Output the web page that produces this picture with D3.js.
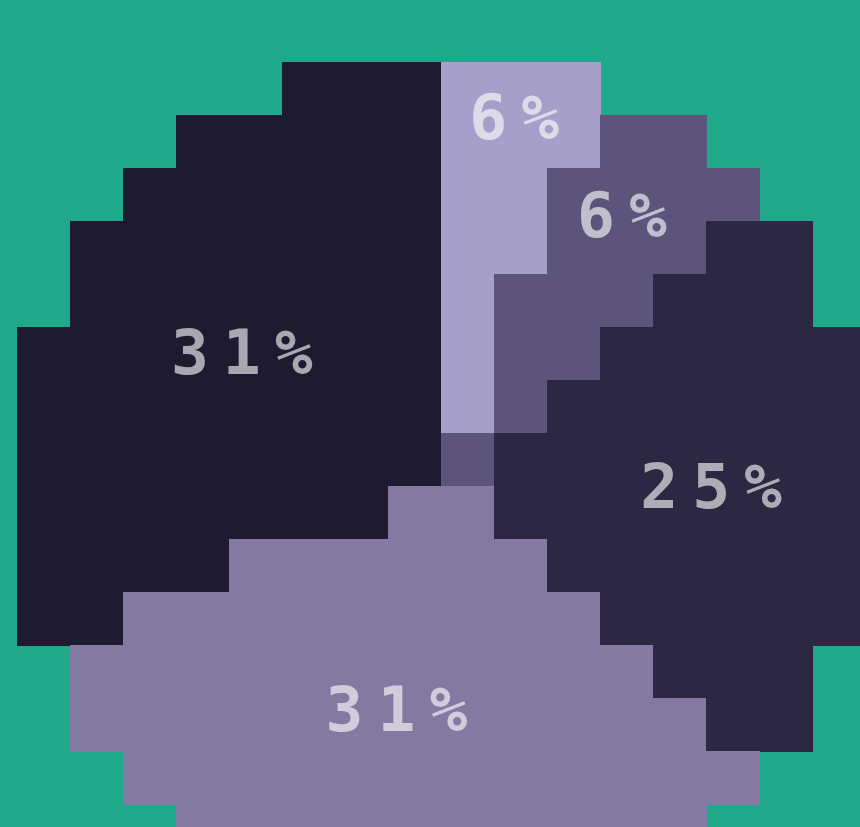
<!doctype html>
<html>
<head>
<meta charset="utf-8">
<style>
  html, body { margin: 0; padding: 0; background: #1fa88a; }
  svg { display: block; }
</style>
</head>
<body>
<script src="https://cdn.jsdelivr.net/npm/d3@7"></script>
<script>

  // data (parts of 16)
  var values = [1, 1, 4, 5, 5];
  var labels = ["6%", "6%", "25%", "31%", "31%"];
  var colors = ["#a59fc9", "#5d547b", "#2c2843", "#8479a1", "#1e1b31"];

  // layout
  var width = 860, height = 827;
  var cell = 53;              // size of one big pixel
  var cols = 18, rows = 18;   // pixel grid, pie centred at (9,9)
  var R = 8;                  // radius in grid pixels
  var labelR = [0.886, 0.768, 0.637, 0.538, 0.565]; // label distance as share of radius

  var svg = d3.select("body").append("svg")
      .attr("width", width).attr("height", height);

  svg.append("rect").attr("width", width).attr("height", height).attr("fill", "#1fa88a");

  var xScale = d3.scaleLinear().domain([0, cols]).range([-36, -36 + cols * cell]);
  var yScale = d3.scaleLinear().domain([0, rows]).range([9, 9 + rows * cell]);

  var pie = d3.pie().sort(null).value(function(d){ return d; });
  var arcs = pie(values);

  // sample every grid pixel and give it the colour of the slice it falls in
  var cx = 9.002, cy = 8.999;
  var cells = [];
  for (var r = 0; r < rows; r++) {
    for (var c = 0; c < cols; c++) {
      var dx = c + 0.5 - cx, dy = r + 0.5 - cy;
      if (Math.sqrt(dx*dx + dy*dy) > R) continue;
      var a = Math.atan2(dx, -dy);
      if (a < 0) a += 2 * Math.PI;
      var k = arcs.findIndex(function(s){ return a >= s.startAngle && a < s.endAngle; });
      if (k < 0) k = arcs.length - 1;
      cells.push({ c: c, r: r, k: k });
    }
  }

  svg.append("g")
    .attr("shape-rendering", "crispEdges")
    .selectAll("rect")
    .data(cells).enter()
    .append("rect")
    .attr("x", function(d){ return xScale(d.c); })
    .attr("y", function(d){ return yScale(d.r); })
    .attr("width", cell + 0.5)
    .attr("height", cell + 0.5)
    .attr("fill", function(d){ return colors[d.k]; });

  // labels
  var ox = xScale(9), oy = yScale(9);
  var g = svg.append("g").attr("transform", "translate(" + ox + "," + oy + ")");
  g.selectAll("text")
    .data(arcs).enter()
    .append("text")
    .attr("transform", function(d, i){
      var rr = labelR[i] * R * cell;
      var p = d3.arc().innerRadius(rr).outerRadius(rr).centroid(d);
      return "translate(" + p[0] + "," + p[1] + ")";
    })
    .attr("text-anchor", "middle")
    .attr("dominant-baseline", "central")
    .attr("dx", 7)
    .style("font-family", "'DejaVu Sans Mono', monospace")
    .style("font-weight", "bold")
    .style("font-size", "63px")
    .style("letter-spacing", "14px")
    .attr("fill", "#ffffff")
    .attr("fill-opacity", 0.62)
    .text(function(d, i){ return labels[i]; });

</script>
</body>
</html>
